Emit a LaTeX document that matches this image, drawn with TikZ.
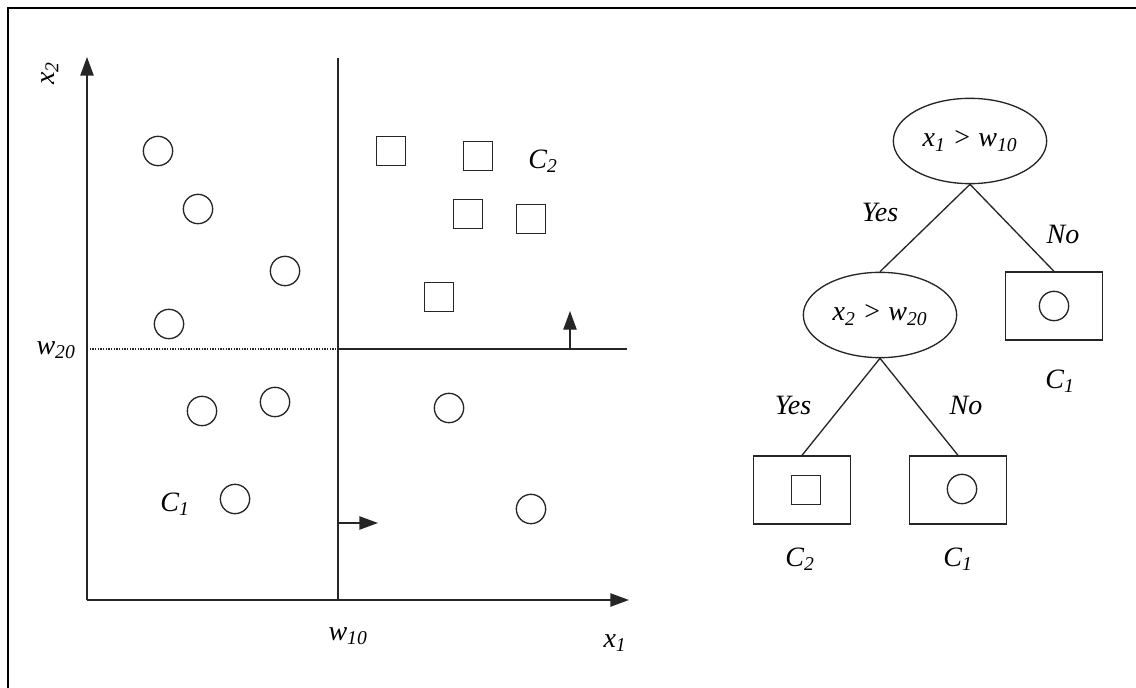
\documentclass[tikz,border=0pt]{standalone}
\usepackage{fontspec}
\setmainfont{Liberation Serif}
\usetikzlibrary{arrows.meta,shapes.geometric}
\newcommand{\vsub}[2]{\textit{#1}\textsubscript{\textit{#2}}}
\begin{document}
\begin{tikzpicture}[x=0.75pt,y=-0.75pt, line width=1pt, draw=black!85,
  lbl/.style={font=\fontsize{21}{25}\selectfont\itshape, inner sep=0pt},
  arr/.style={-{Triangle[length=14pt,width=10pt]}},
  dot/.style={circle, draw, minimum size=22pt, inner sep=0pt},
  sq/.style={rectangle, draw, minimum size=22pt, inner sep=0pt},
  test/.style={ellipse, draw, minimum width=115pt, minimum height=64pt, inner sep=0pt, font=\fontsize{21}{25}\selectfont\itshape},
  leaf/.style={rectangle, draw, minimum width=73pt, minimum height=51pt, inner sep=0pt},
  frame/.style={line width=1.3pt, draw=black}
]
\useasboundingbox (0,0) rectangle (1136,688);
% frame
\coordinate (fr1) at (1136,8);
\coordinate (fr2) at (8,8);
\coordinate (fr3) at (8,688);
\draw[frame] (fr1) -- (fr2) -- (fr3);

% axes
\coordinate (O) at (87,600);
\coordinate (Y) at (87,57);
\coordinate (X) at (629,600);
\draw[arr] (O) -- (Y);
\draw[arr] (O) -- (X);
\node[lbl, rotate=90] (x2lab) at (50,73) {\vsub{x}{2}};
\node[lbl] (x1lab) at (615,643) {\vsub{x}{1}};

% splits
\coordinate (vt) at (338,58);
\coordinate (vb) at (338,600);
\draw (vt) -- (vb);
\coordinate (hl) at (87,349);
\coordinate (hm) at (338,349);
\coordinate (hr) at (627,349);
\draw[line width=0.8pt, dash pattern=on 1pt off 1pt] (hl) -- (hm);
\draw (hm) -- (hr);
\node[lbl] (w20lab) at (56,350) {\vsub{w}{20}};
\node[lbl] (w10lab) at (348,636) {\vsub{w}{10}};

% normals
\coordinate (a1s) at (338,523);
\coordinate (a1e) at (378,523);
\draw[arr] (a1s) -- (a1e);
\coordinate (a2s) at (570,349);
\coordinate (a2e) at (570,311);
\draw[arr] (a2s) -- (a2e);

% C1 points
\node[dot] (c1) at (158,151) {};
\node[dot] (c2) at (198,209) {};
\node[dot] (c3) at (285,271) {};
\node[dot] (c4) at (169,324) {};
\node[dot] (c5) at (202,411) {};
\node[dot] (c6) at (275,402) {};
\node[dot] (c7) at (235,499) {};
\node[dot] (c8) at (449,408) {};
\node[dot] (c9) at (531,509) {};
% C2 points
\node[sq] (s1) at (391,151) {};
\node[sq] (s2) at (478,156) {};
\node[sq] (s3) at (468,214) {};
\node[sq] (s4) at (531,219) {};
\node[sq] (s5) at (439,297) {};
\node[lbl] (C2lab) at (543,161) {\vsub{C}{2}};
\node[lbl] (C1lab) at (175,504) {\vsub{C}{1}};

% tree
\node[test] (t1) at (970,141) {\vsub{x}{1} > \vsub{w}{10}};
\node[test] (t2) at (880,315) {\vsub{x}{2} > \vsub{w}{20}};
\node[leaf] (l1) at (1054,306) {};
\node[dot] (l1d) at (1054,306) {};
\node[leaf] (l2) at (802,490) {};
\node[sq] (l2s) at (806,490) {};
\node[leaf] (l3) at (958,490) {};
\node[dot] (l3d) at (962,489) {};
\draw (t1.south) -- (t2.north);
\draw (t1.south) -- (l1.north);
\draw (t2.south) -- (l2.north);
\draw (t2.south) -- (l3.north);
\node[lbl] (y1) at (880,212) {Yes};
\node[lbl] (n1) at (1063,234) {No};
\node[lbl] (y2) at (793,405) {Yes};
\node[lbl] (n2) at (966,405) {No};
\node[lbl] (lc1) at (1060,381) {\vsub{C}{1}};
\node[lbl] (lc2) at (800,559) {\vsub{C}{2}};
\node[lbl] (lc3) at (958,559) {\vsub{C}{1}};
\end{tikzpicture}
\end{document}
